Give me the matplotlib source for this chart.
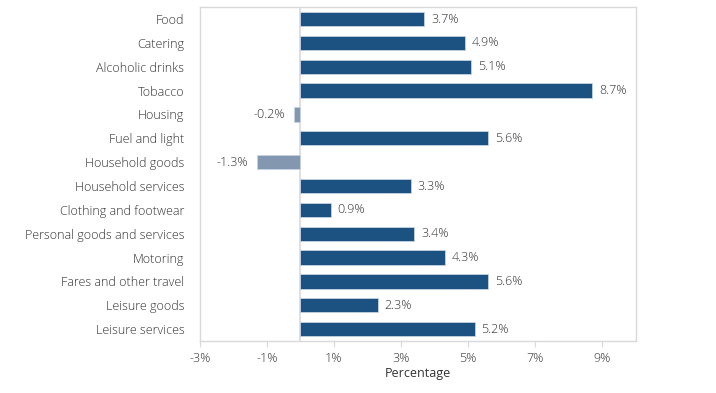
import matplotlib.pyplot as plt

plt.rcParams['font.family'] = ['Open Sans', 'DejaVu Sans']
plt.rcParams['font.weight'] = 'light'

categories = ['Food', 'Catering', 'Alcoholic drinks', 'Tobacco', 'Housing',
              'Fuel and light', 'Household goods', 'Household services',
              'Clothing and footwear', 'Personal goods and services', 'Motoring',
              'Fares and other travel', 'Leisure goods', 'Leisure services']
values = [3.7, 4.9, 5.1, 8.7, -0.2, 5.6, -1.3, 3.3, 0.9, 3.4, 4.3, 5.6, 2.3, 5.2]
xticks = [-3, -1, 1, 3, 5, 7, 9]

pos_color = '#1B5281'
neg_color = '#8497B0'
text_color = '#333333'
grid_color = '#D9D9D9'
fs = 9

fig = plt.figure(figsize=(7.16, 3.93), dpi=100)
ax = fig.add_axes([0.279, 0.132, 0.609, 0.85])

colors = [pos_color if v >= 0 else neg_color for v in values]
ypos = list(range(len(categories)))
ax.barh(ypos, values, height=0.6, color=colors, edgecolor='#C5D3E2', linewidth=0.6, zorder=3)

# value labels next to each bar
for y, v in zip(ypos, values):
    if v >= 0:
        ax.text(v + 0.2, y, f'{v:.1f}%', va='center', ha='left', fontsize=fs, color=text_color)
    else:
        ax.text(v - 0.25, y, f'{v:.1f}%', va='center', ha='right', fontsize=fs, color=text_color)

ax.axvline(0, color=grid_color, linewidth=1.2, zorder=2)

ax.set_xlim(-3, 10)
ax.set_ylim(len(categories) - 0.5, -0.5)
ax.set_yticks(ypos)
ax.set_yticklabels(categories, fontsize=fs, color=text_color)
ax.set_xticks(xticks)
ax.set_xticklabels([f'{t}%' for t in xticks], fontsize=fs, color=text_color)
ax.set_xlabel('Percentage', fontsize=fs, color=text_color, labelpad=1)

for s in ax.spines.values():
    s.set_color(grid_color)
    s.set_linewidth(1.0)
ax.tick_params(axis='y', length=0, pad=11)
ax.tick_params(axis='x', length=4, color=grid_color, pad=4)

fig.savefig('out.png', dpi=100)
